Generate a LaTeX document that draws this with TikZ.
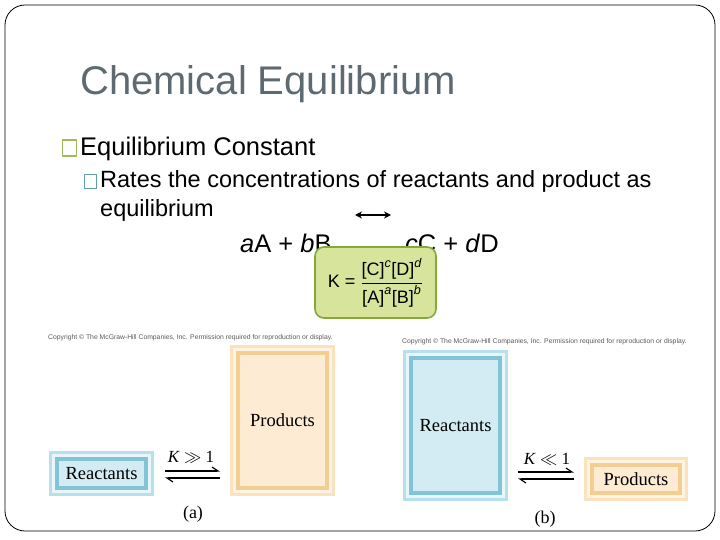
\documentclass[tikz,border=0pt]{standalone}
\usepackage{fontspec}
\usepackage{amsmath}
\setmainfont{Liberation Sans}
\newfontfamily\figfont{Liberation Serif}
\usetikzlibrary{arrows.meta}
\definecolor{titlegray}{RGB}{94,106,113}
\definecolor{bulgreen}{RGB}{155,187,89}
\definecolor{bulteal}{RGB}{95,158,170}
\definecolor{kfill}{RGB}{214,228,156}
\definecolor{kdraw}{RGB}{134,168,58}
\definecolor{prodout}{RGB}{250,226,190}
\definecolor{prodlite}{RGB}{255,244,228}
\definecolor{proddark}{RGB}{243,206,146}
\definecolor{prodin}{RGB}{253,235,211}
\definecolor{reacout}{RGB}{184,224,236}
\definecolor{reaclite}{RGB}{232,246,250}
\definecolor{reacdark}{RGB}{130,196,213}
\definecolor{reacin}{RGB}{211,236,243}
\newcommand\fsz[1]{\fontsize{#1}{#1}\selectfont}
\begin{document}
\begin{tikzpicture}[x=1pt,y=-1pt,line join=round,
    txt/.style={anchor=base west,inner sep=0pt},
    bulbox/.style={draw=#1,line width=1.3pt,minimum width=14pt,minimum height=16pt,inner sep=0pt},
    prodbox/.style={inner sep=0pt,fill=prodin,draw=proddark,line width=4.5pt,line join=miter,
      preaction={draw=prodout,line width=16pt},preaction={draw=prodlite,line width=10pt},
      font=\figfont\fsz{18.5}},
    reacbox/.style={inner sep=0pt,fill=reacin,draw=reacdark,line width=4.5pt,line join=miter,
      preaction={draw=reacout,line width=16pt},preaction={draw=reaclite,line width=10pt},
      font=\figfont\fsz{18.5}},
    harp/.style={line width=1.2pt,-{Straight Barb[left,length=6pt,width=8pt]}},
    copy/.style={font=\fsz{6.8},text=black!65,inner sep=0pt,anchor=west}]
\useasboundingbox (0,0) rectangle (720,540);
\draw[line width=0.8pt,rounded corners=20pt] (5,5) rectangle (715,531);
% title and bullets
\node[txt,text=titlegray,font=\fsz{40}] (title) at (80,95) {Chemical Equilibrium};
\node[bulbox=bulgreen] (b1) at (69.5,148) {};
\node[txt,font=\fsz{25.5}] (eqc) at (80,156) {Equilibrium Constant};
\node[bulbox=bulteal,minimum width=12pt,minimum height=14pt] (b2) at (90.5,181.5) {};
\node[txt,font=\fsz{23.5}] (rates) at (100,188) {Rates the concentrations of reactants and product as};
\node[txt,font=\fsz{23.5}] (equil) at (100,217) {equilibrium};
\coordinate (d1) at (355,215);
\coordinate (d2) at (391,215);
\draw[line width=1.6pt,{Stealth[length=7pt,width=7pt]}-{Stealth[length=7pt,width=7pt]}] (d1) -- (d2);
\node[txt,font=\fsz{25.5}] (lhs) at (240,252) {\textit{a}A + \textit{b}B};
\node[txt,font=\fsz{25.5}] (rhs) at (405,252) {\textit{c}C + \textit{d}D};
\node[fill=kfill,draw=kdraw,line width=1.6pt,rounded corners=9pt,minimum width=121pt,
  minimum height=71pt,inner sep=0pt,font=\fsz{18}] (kbox) at (375.5,282.5)
  {K = $\dfrac{\text{[C]}^{\text{\itshape c}}\text{[D]}^{\text{\itshape d}}}{\text{[A]}^{\text{\itshape a}}\text{[B]}^{\text{\itshape b}}}$};
% figure (a)
\node[copy] (cpa) at (48,338) {Copyright \textcopyright{} The McGraw-Hill Companies, Inc. Permission required for reproduction or display.};
\node[reacbox,minimum width=89pt,minimum height=29pt] (reacA) at (101.5,473.5) {Reactants};
\node[prodbox,minimum width=89pt,minimum height=135pt] (prodA) at (282.5,420.5) {Products};
\coordinate (a1) at (165,471); \coordinate (a2) at (220,471);
\coordinate (a3) at (220,478); \coordinate (a4) at (165,478);
\draw[harp] (a1) -- (a2);
\draw[harp] (a3) -- (a4);
\node[font=\figfont\fsz{17}] (kA) at (191,457) {\textit{K} $\gg$ 1};
\node[font=\figfont\fsz{18}] (capA) at (193,514) {(a)};
% figure (b)
\node[copy] (cpb) at (402,342) {Copyright \textcopyright{} The McGraw-Hill Companies, Inc. Permission required for reproduction or display.};
\node[reacbox,minimum width=89pt,minimum height=135pt] (reacB) at (455.5,425.5) {Reactants};
\node[prodbox,minimum width=88pt,minimum height=28pt] (prodB) at (636,479) {Products};
\coordinate (c1) at (518,472); \coordinate (c2) at (574,472);
\coordinate (c3) at (574,479); \coordinate (c4) at (518,479);
\draw[harp] (c1) -- (c2);
\draw[harp] (c3) -- (c4);
\node[font=\figfont\fsz{17}] (kB) at (547,459) {\textit{K} $\ll$ 1};
\node[font=\figfont\fsz{18}] (capB) at (545,519) {(b)};
\end{tikzpicture}
\end{document}
